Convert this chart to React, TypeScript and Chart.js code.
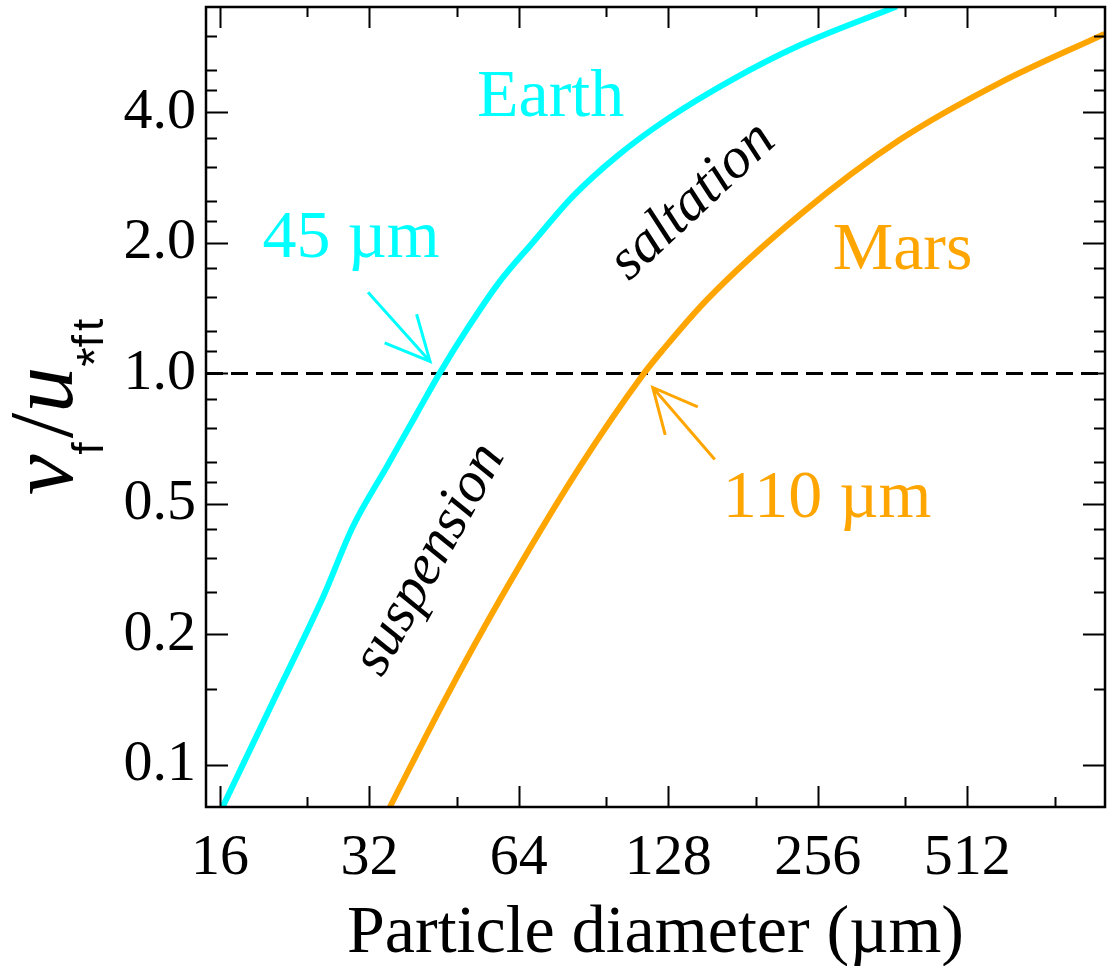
import React, { useEffect, useRef } from 'react';
import { Chart, registerables } from 'chart.js';

Chart.register(...registerables);

// ---- data ----
const earthDiameter = [16.2, 20.46, 25.8, 29.65, 34.71, 39.88, 44.37, 50.29, 58.6, 68.3, 82.2, 100.8, 127.1, 172.6, 235.5, 369];
const earthRatio = [0.1, 0.1748, 0.3045, 0.4436, 0.6103, 0.8085, 1.003, 1.263, 1.63, 2.005, 2.56, 3.167, 3.854, 4.766, 5.71, 7.02];

const marsDiameter = [35.19, 45.41, 58.6, 84.9, 113.7, 124.8, 153, 235.5, 374.4, 595.4, 968];
const marsRatio = [0.1, 0.1767, 0.3005, 0.6087, 0.992, 1.133, 1.478, 2.321, 3.457, 4.679, 6.07];

const thresholdRatio = 1.0;

const xMin = 15;
const xMax = 970;
const yMin = 0.1;
const yMax = 7.0;

const xMajorTicks = [16, 32, 64, 128, 256, 512];
const xTickLabels = ['16', '32', '64', '128', '256', '512'];
const xMinorTicks = [24, 48, 96, 192, 384, 768];

const yMajorTicks = [0.125, 0.25, 0.5, 1, 2, 4];
const yTickLabels = ['0.1', '0.2', '0.5', '1.0', '2.0', '4.0'];
const yMinorTicks = [0.1875, 0.3125, 0.375, 0.4375, 0.5625, 0.625, 0.75, 0.875, 1.125, 1.25, 1.5, 1.75, 2.25, 2.5, 3, 3.5, 4.5, 5, 6];

const xTitle = 'Particle diameter (\u00b5m)';

const CYAN = '#00FFFF';
const ORANGE = '#FFA500';
const SERIF = '"Liberation Serif", "Times New Roman", serif';
const SANS = '"Liberation Sans", Arial, sans-serif';

function drawArrow(ctx: CanvasRenderingContext2D, x0: number, y0: number, x1: number, y1: number, color: string) {
  const ang = Math.atan2(y0 - y1, x0 - x1);
  const head = 49;
  const spread = (26 * Math.PI) / 180;
  ctx.strokeStyle = color;
  ctx.lineWidth = 3;
  ctx.lineCap = 'butt';
  ctx.beginPath();
  ctx.moveTo(x0, y0);
  ctx.lineTo(x1, y1);
  ctx.moveTo(x1 + head * Math.cos(ang - spread), y1 + head * Math.sin(ang - spread));
  ctx.lineTo(x1, y1);
  ctx.lineTo(x1 + head * Math.cos(ang + spread), y1 + head * Math.sin(ang + spread));
  ctx.stroke();
}

const overlayPlugin = {
  id: 'overlay',
  afterDatasetsDraw(chart: any) {
    const { ctx, chartArea: a, scales } = chart;
    const xs = scales.x;
    const ys = scales.y;
    const X = (v: number) => xs.getPixelForValue(v);
    const Y = (v: number) => ys.getPixelForValue(v);
    ctx.save();

    // frame
    ctx.strokeStyle = '#000';
    ctx.lineWidth = 2.5;
    ctx.strokeRect(a.left, a.top, a.right - a.left, a.bottom - a.top);

    // inward ticks on all four sides
    ctx.lineWidth = 2;
    ctx.beginPath();
    const xt = (vals: number[], len: number) => {
      vals.forEach((v) => {
        const p = Math.round(X(v)) + 0.5;
        ctx.moveTo(p, a.bottom);
        ctx.lineTo(p, a.bottom - len);
        ctx.moveTo(p, a.top);
        ctx.lineTo(p, a.top + len);
      });
    };
    const yt = (vals: number[], len: number) => {
      vals.forEach((v) => {
        const p = Math.round(Y(v)) + 0.5;
        ctx.moveTo(a.left, p);
        ctx.lineTo(a.left + len, p);
        ctx.moveTo(a.right, p);
        ctx.lineTo(a.right - len, p);
      });
    };
    xt(xMajorTicks, 21);
    xt(xMinorTicks, 10);
    yt(yMajorTicks, 22);
    yt(yMinorTicks, 11);
    ctx.stroke();

    // arrows
    drawArrow(ctx, X(31.8), Y(1.538), X(42.4), Y(1.066), CYAN);
    drawArrow(ctx, X(158.8), Y(0.633), X(119.1), Y(0.928), ORANGE);

    // labels
    ctx.textBaseline = 'alphabetic';
    ctx.textAlign = 'left';
    ctx.font = `68px ${SERIF}`;
    ctx.fillStyle = CYAN;
    ctx.fillText('Earth', X(52.7), Y(3.916));
    ctx.fillText('45 \u00b5m', X(19.5), Y(1.852));
    ctx.fillStyle = ORANGE;
    ctx.fillText('Mars', X(274.4), Y(1.737));
    ctx.fillText('110 \u00b5m', X(164.8), Y(0.4656));

    // rotated region labels
    ctx.fillStyle = '#000';
    ctx.font = `italic 58px ${SERIF}`;
    ctx.textAlign = 'center';
    ctx.textBaseline = 'middle';
    ctx.save();
    ctx.translate(X(143.4), Y(2.493));
    ctx.rotate((-43 * Math.PI) / 180);
    ctx.fillText('saltation', 0, 0);
    ctx.restore();
    ctx.save();
    ctx.translate(X(42.4), Y(0.372));
    ctx.rotate((-61 * Math.PI) / 180);
    ctx.fillText('suspension', 0, 0);
    ctx.restore();

    // x axis title
    ctx.textAlign = 'center';
    ctx.textBaseline = 'alphabetic';
    ctx.font = `68px ${SERIF}`;
    ctx.fillText(xTitle, (a.left + a.right) / 2, 952);

    // y axis title: v_f / u_*ft
    const parts = [
      { t: 'v', font: `italic 92px ${SERIF}`, dy: 0, gap: 0 },
      { t: 'f', font: `44px ${SANS}`, dy: 31, gap: 4 },
      { t: '/', font: `92px ${SERIF}`, dy: 0, gap: 0 },
      { t: 'u', font: `italic 92px ${SERIF}`, dy: 0, gap: 0 },
      { t: '*', font: `50px ${SANS}`, dy: 40, gap: 0 },
      { t: 'f', font: `44px ${SANS}`, dy: 31, gap: 4 },
      { t: 't', font: `44px ${SANS}`, dy: 31, gap: 0 },
    ];
    let total = 0;
    const widths = parts.map((p) => {
      ctx.font = p.font;
      const w = ctx.measureText(p.t).width + p.gap;
      total += w;
      return w;
    });
    ctx.save();
    ctx.translate(72, (a.top + a.bottom) / 2);
    ctx.rotate(-Math.PI / 2);
    ctx.textAlign = 'left';
    ctx.textBaseline = 'alphabetic';
    let cx = -total / 2;
    parts.forEach((p, i) => {
      ctx.font = p.font;
      ctx.fillText(p.t, cx, p.dy);
      cx += widths[i];
    });
    ctx.restore();

    ctx.restore();
  },
};

function buildChart(canvas: HTMLCanvasElement) {
  return new Chart(canvas, {
    type: 'line',
    data: {
      datasets: [
        {
          label: 'Earth',
          data: earthDiameter.map((d, i) => ({ x: d, y: earthRatio[i] })),
          borderColor: CYAN,
          borderWidth: 6,
          pointRadius: 0,
          cubicInterpolationMode: 'monotone',
          clip: 0,
        } as any,
        {
          label: 'Mars',
          data: marsDiameter.map((d, i) => ({ x: d, y: marsRatio[i] })),
          borderColor: ORANGE,
          borderWidth: 6,
          pointRadius: 0,
          cubicInterpolationMode: 'monotone',
          clip: 0,
        } as any,
        {
          label: 'threshold',
          data: [
            { x: xMin, y: thresholdRatio },
            { x: xMax, y: thresholdRatio },
          ],
          borderColor: '#000',
          borderWidth: 3,
          borderDash: [17, 8],
          pointRadius: 0,
          clip: 0,
        } as any,
      ],
    },
    options: {
      animation: false,
      responsive: false,
      devicePixelRatio: 1,
      layout: { padding: { top: 7, right: 2, left: 0, bottom: 0 } },
      plugins: { legend: { display: false }, tooltip: { enabled: false } },
      scales: {
        x: {
          type: 'logarithmic',
          min: xMin,
          max: xMax,
          grid: { display: false, drawTicks: false },
          border: { display: false },
          afterBuildTicks: (s: any) => {
            s.ticks = xMajorTicks.map((v) => ({ value: v }));
          },
          afterFit: (s: any) => {
            s.height = 966 - 807;
            s.paddingLeft = 0;
            s.paddingRight = 0;
          },
          ticks: {
            autoSkip: false,
            maxRotation: 0,
            padding: 17,
            color: '#000',
            font: { family: SERIF, size: 58 },
            callback: (_v: any, i: number) => xTickLabels[i],
          },
        },
        y: {
          type: 'logarithmic',
          min: yMin,
          max: yMax,
          grid: { display: false, drawTicks: false },
          border: { display: false },
          afterBuildTicks: (s: any) => {
            s.ticks = yMajorTicks.map((v) => ({ value: v }));
          },
          afterFit: (s: any) => {
            s.width = 206;
            s.paddingTop = 0;
            s.paddingBottom = 0;
          },
          ticks: {
            autoSkip: false,
            padding: 10,
            color: '#000',
            font: { family: SERIF, size: 58 },
            callback: (_v: any, i: number) => yTickLabels[i],
          },
        },
      },
    } as any,
    plugins: [overlayPlugin],
  });
}

export default function App() {
  const ref = useRef<HTMLCanvasElement | null>(null);

  useEffect(() => {
    document.body.style.margin = '0';
    const canvas = ref.current;
    if (!canvas) return;
    let alive = true;
    let chart: Chart | null = null;
    const create = () => {
      if (!alive || chart) return;
      chart = buildChart(canvas);
    };
    const fonts = (document as any).fonts;
    if (fonts && fonts.load) {
      const specs = [
        '58px "Liberation Serif"',
        '68px "Liberation Serif"',
        'italic 58px "Liberation Serif"',
        'italic 92px "Liberation Serif"',
        '92px "Liberation Serif"',
        '44px "Liberation Sans"',
        '50px "Liberation Sans"',
      ];
      Promise.all(specs.map((s) => fonts.load(s)))
        .then(() => create())
        .catch(() => create());
      setTimeout(create, 1500);
    } else {
      create();
    }
    return () => {
      alive = false;
      if (chart) chart.destroy();
    };
  }, []);

  return (
    <div style={{ width: 1107, height: 966, position: 'relative', background: '#fff' }}>
      <canvas ref={ref} width={1107} height={966} style={{ display: 'block' }} />
    </div>
  );
}
